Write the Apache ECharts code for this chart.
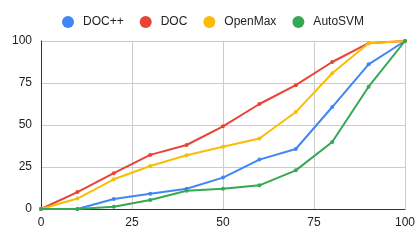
<!DOCTYPE html>
<html><head><meta charset="utf-8">
<script src="https://cdn.jsdelivr.net/npm/echarts@6/dist/echarts.min.js"></script>
<style>html,body{margin:0;padding:0;background:#fff}#c{width:420px;height:242px}</style>
</head><body><div id="c"></div>
<script>
const xValues = [0,10,20,30,40,50,60,70,80,90,100];
const seriesNames = ["DOC++","DOC","OpenMax","AutoSVM"];
const docpp   = [0,0,6,9.1,12.1,18.7,29.4,35.7,60.7,86.1,100];
const doc     = [0,10.1,21.3,32.2,38.1,49.2,62.5,73.7,87.5,98.7,100];
const openmax = [0,6.2,17.7,25.6,32,37.1,42,57.7,80.8,98.7,100];
const autosvm = [0,0,1.4,5.4,10.9,12.1,14.1,23,39.9,72.8,100];
const tickValues = [0,25,50,75,100];
const colors = ["#4285F4","#EA4335","#FBBC04","#34A853"];
const allData = [docpp, doc, openmax, autosvm];
const chart = echarts.init(document.getElementById('c'));
chart.setOption({
  animation:false,
  textStyle:{fontFamily:'Arial, "Liberation Sans", sans-serif'},
  legend:{top:11,left:57,itemWidth:12,itemHeight:12,itemGap:16,icon:'circle',
    textStyle:{fontSize:12,color:'#222',fontFamily:'Arial, "Liberation Sans", sans-serif',padding:[0,0,0,4]},
    data:seriesNames},
  grid:{left:41,right:15,top:41,bottom:33,containLabel:false},
  xAxis:{type:'value',min:0,max:100,interval:25,
    axisLine:{show:true,lineStyle:{color:'#333',width:1}},
    axisTick:{show:false},
    axisLabel:{color:'#222',fontSize:12,margin:8},
    splitLine:{show:true,lineStyle:{color:'#ccc',width:1}}},
  yAxis:{type:'value',min:0,max:100,interval:25,
    axisLine:{show:true,lineStyle:{color:'#333',width:1}},
    axisTick:{show:false},
    axisLabel:{color:'#222',fontSize:12,margin:9},
    splitLine:{show:true,lineStyle:{color:'#ccc',width:1}}},
  series: seriesNames.map((n,i)=>({
    name:n,type:'line',
    data:xValues.map((x,j)=>[x,allData[i][j]]),
    symbol:'circle',symbolSize:4,showSymbol:true,
    lineStyle:{width:2,color:colors[i]},
    itemStyle:{color:colors[i]},
    z:2+i
  })),
  color:colors
});
</script></body></html>
